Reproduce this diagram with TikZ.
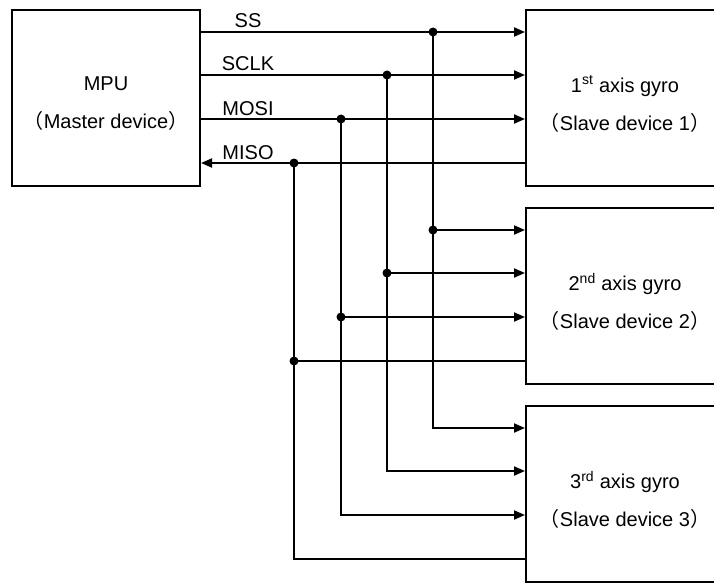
\documentclass[tikz,border=0pt]{standalone}
\usepackage{fontspec}
\setmainfont{Liberation Sans}
\newfontfamily\cjk{Noto Sans CJK SC}
\usetikzlibrary{arrows.meta}

\begin{document}
\begin{tikzpicture}[x=1pt,y=-1pt,
  box/.style={draw,line width=2pt,minimum width=188pt,minimum height=176pt,inner sep=0pt},
  slave/.style={box,minimum width=198pt},
  txt/.style={align=center,font=\fontsize{20}{38}\selectfont},
  lab/.style={anchor=base,inner sep=0pt,font=\fontsize{20}{24}\selectfont},
  sig/.style={line width=2pt},
  tip/.style={sig,-{Triangle[length=11pt,width=9pt]}}]
  \useasboundingbox (0,0) rectangle (714,583);
  \clip (0,0) rectangle (714,583);
  % Master and slave devices
  \node[box] (mpu) at (106,98) {};
  \node[slave] (s1) at (625,98) {};
  \node[slave] (s2) at (625,296) {};
  \node[slave] (s3) at (625,494) {};
  \node[txt] (mputxt) at (106,104) {MPU\\{\cjk （}Master device{\cjk ）}};
  \node[txt] (s1txt) at (625,104) {1\textsuperscript{st} axis gyro\\{\cjk （}Slave device 1{\cjk ）}};
  \node[txt] (s2txt) at (625,302) {2\textsuperscript{nd} axis gyro\\{\cjk （}Slave device 2{\cjk ）}};
  \node[txt] (s3txt) at (625,500) {3\textsuperscript{rd} axis gyro\\{\cjk （}Slave device 3{\cjk ）}};
  % Pin positions on each box
  \foreach \sig/\dy/\vx in {ss/23/433,sclk/66/387,mosi/110/341,miso/154/294} {
    \coordinate (\sig-m) at ([yshift=-\dy pt]mpu.north east);
    \foreach \k in {1,2,3}
      \coordinate (\sig-\k) at ([yshift=-\dy pt]s\k.north west);
    \coordinate (\sig-x) at (\vx,0);
  }
  % Signal names
  \foreach \sig/\name in {ss/SS,sclk/SCLK,mosi/MOSI,miso/MISO}
    \node[lab] (\sig-lab) at ([xshift=47pt,yshift=4pt]\sig-m) {\name};
  % Master outputs to all slaves
  \foreach \sig in {ss,sclk,mosi} {
    \draw[tip] (\sig-m) -- (\sig-1);
    \draw[tip] (\sig-x |- \sig-1) -- (\sig-x |- \sig-3) -- (\sig-3);
    \draw[tip] (\sig-x |- \sig-2) -- (\sig-2);
    \fill (\sig-x |- \sig-1) circle (4.5) (\sig-x |- \sig-2) circle (4.5);
  }
  % MISO back to master
  \draw[tip] (miso-1) -- (miso-m);
  \draw[sig] (miso-3) -- (miso-x |- miso-3) -- (miso-x |- miso-1);
  \draw[sig] (miso-2) -- (miso-x |- miso-2);
  \fill (miso-x |- miso-1) circle (4.5) (miso-x |- miso-2) circle (4.5);
\end{tikzpicture}
\end{document}
